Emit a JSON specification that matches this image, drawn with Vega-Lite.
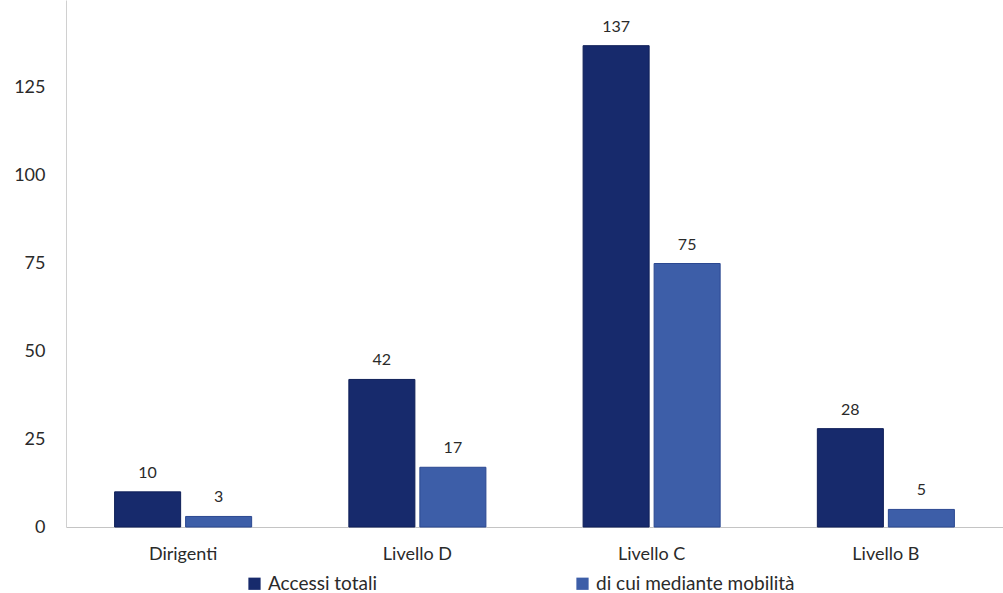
{
  "$schema": "https://vega.github.io/schema/vega-lite/v6.json",
  "width": 937,
  "height": 527,
  "autosize": {"type": "none"},
  "padding": {"left": 66, "top": 0, "right": 0, "bottom": 66},
  "background": "white",
  "config": {
    "view": {"stroke": null},
    "font": "Lato",
    "axis": {"labelFont": "Lato", "labelColor": "#2a2a2a", "labelFontSize": 18},
    "legend": {"labelFont": "Lato"}
  },
  "data": {
    "values": [
      {"livello": "Dirigenti", "serie": "Accessi totali", "valore": 10},
      {"livello": "Dirigenti", "serie": "di cui mediante mobilità", "valore": 3},
      {"livello": "Livello D", "serie": "Accessi totali", "valore": 42},
      {"livello": "Livello D", "serie": "di cui mediante mobilità", "valore": 17},
      {"livello": "Livello C", "serie": "Accessi totali", "valore": 137},
      {"livello": "Livello C", "serie": "di cui mediante mobilità", "valore": 75},
      {"livello": "Livello B", "serie": "Accessi totali", "valore": 28},
      {"livello": "Livello B", "serie": "di cui mediante mobilità", "valore": 5}
    ]
  },
  "encoding": {
    "x": {
      "field": "livello",
      "type": "nominal",
      "sort": ["Dirigenti", "Livello D", "Livello C", "Livello B"],
      "scale": {"paddingInner": 0.415, "paddingOuter": 0.2075},
      "axis": {
        "title": null,
        "labelAngle": 0,
        "ticks": false,
        "labelPadding": 18,
        "domainColor": "#c4c4c4",
        "grid": false
      }
    },
    "xOffset": {
      "field": "serie",
      "type": "nominal",
      "sort": ["Accessi totali", "di cui mediante mobilità"],
      "scale": {"paddingInner": 0.07, "paddingOuter": 0}
    },
    "y": {
      "field": "valore",
      "type": "quantitative",
      "scale": {"domain": [0, 150], "nice": false},
      "axis": {
        "title": null,
        "values": [0, 25, 50, 75, 100, 125],
        "ticks": false,
        "grid": false,
        "labelPadding": 21,
        "domainColor": "#d0d0d0"
      }
    }
  },
  "layer": [
    {
      "mark": {"type": "bar", "strokeWidth": 1},
      "encoding": {
        "color": {
          "field": "serie",
          "type": "nominal",
          "sort": ["Accessi totali", "di cui mediante mobilità"],
          "scale": {"range": ["#172a6c", "#3d5ea8"]},
          "legend": {
            "title": null,
            "orient": "none",
            "direction": "horizontal",
            "legendX": 179,
            "legendY": 574,
            "symbolType": "square",
            "symbolSize": 150,
            "symbolStrokeWidth": 0,
            "symbolOpacity": 1,
            "labelFontSize": 19,
            "labelColor": "#2a2a2a",
            "labelOffset": 4,
            "labelLimit": 300,
            "columnPadding": 196
          }
        },
        "stroke": {
          "field": "serie",
          "type": "nominal",
          "sort": ["Accessi totali", "di cui mediante mobilità"],
          "scale": {"range": ["#0f1f58", "#2b4891"]},
          "legend": null
        }
      }
    },
    {
      "mark": {"type": "text", "baseline": "bottom", "dy": -11, "fontSize": 16, "color": "#2a2a2a"},
      "encoding": {"text": {"field": "valore", "type": "quantitative"}}
    }
  ]
}
